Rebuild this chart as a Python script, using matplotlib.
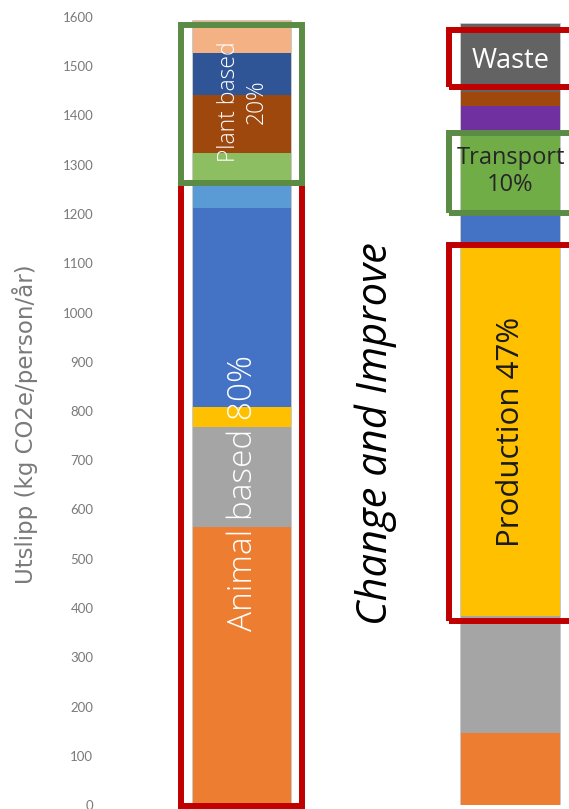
import numpy as np
import matplotlib.pyplot as plt
from matplotlib.patches import Rectangle

# Stacked emissions per person and year, two columns
cur_vals = [564, 203, 41, 404, 57, 55, 117, 85, 65]
cur_cols = ['#ED7D31', '#A5A5A5', '#FFC000', '#4472C4', '#5B9BD5',
            '#8DBF62', '#9E480E', '#2F5597', '#F4B183']

chain_vals = [146, 238, 749, 75, 156, 55, 29, 137]
chain_cols = ['#ED7D31', '#A5A5A5', '#FFC000', '#4472C4', '#70AD47',
              '#7030A0', '#9E480E', '#636363']

yticks = np.arange(0, 1700, 100)

fig = plt.figure(figsize=(5.69, 8.09), dpi=100)
ax = fig.add_axes([110/569, 4/809, 459/569, 788/809])
ax.set_xlim(-0.49, 1.2176)
ax.set_ylim(0, 1600)

W = 0.366
for x, vals, cols in [(0, cur_vals, cur_cols), (1, chain_vals, chain_cols)]:
    ax.bar(x, sum(vals), W, facecolor='none', edgecolor='#BFBFBF', lw=1.2, zorder=1)
    bottom = 0
    for v, c in zip(vals, cols):
        ax.bar(x, v, W, bottom=bottom, color=c, lw=0, zorder=2)
        bottom += v

for s in ax.spines.values():
    s.set_visible(False)
ax.set_xticks([])
ax.set_yticks(yticks)
ax.tick_params(axis='y', length=0, pad=12, labelsize=9.5, labelcolor='#7A7A7A')
for lab in ax.get_yticklabels():
    lab.set_family('Lato')

RED = '#C00000'
GRN = '#5B8C45'
frames = [(-0.2277, -3, 0.4502, 1265, RED),
          (-0.2277, 1262, 0.4502, 321, GRN),
          (0.773, 1457, 0.55, 117, RED),
          (0.773, 1202, 0.55, 162, GRN),
          (0.773, 374, 0.55, 763, RED)]
for x0, y0, w, h, c in frames:
    ax.add_patch(Rectangle((x0, y0), w, h, fill=False, ec=c, lw=4.3,
                           clip_on=False, zorder=5))

ax.text(0.004, 633, 'Animal based 80%', rotation=90, ha='center', va='center',
        color='white', fontsize=24, family='Open Sans', fontweight='light', zorder=6)
ax.text(0.004, 1429, 'Plant based\n20%', rotation=90, ha='center', va='center',
        color='white', fontsize=16.5, family='Open Sans', fontweight='light',
        linespacing=1.2, zorder=6)
ax.text(1.0, 757, 'Production 47%', rotation=90, ha='center', va='center',
        color='#1A1A1A', fontsize=22.5, family='Open Sans', zorder=6)
ax.text(1.0, 1511, 'Waste', ha='center', va='center',
        color='white', fontsize=19.5, family='Open Sans', zorder=6)
ax.text(1.0, 1286, 'Transport\n10%', ha='center', va='center',
        color='#262626', fontsize=17, family='Open Sans', linespacing=1.2, zorder=6)
ax.text(0.5, 754, 'Change and Improve', rotation=90, ha='center', va='center',
        color='black', fontsize=30, family='Open Sans', style='italic', zorder=6)

fig.text(25/569, 1 - 424/809, 'Utslipp (kg CO2e/person/år)', rotation=90,
         ha='center', va='center', color='#7A7A7A', fontsize=16.5,
         family=['Liberation Sans Narrow', 'DejaVu Sans'])

plt.savefig('out.png', dpi=100)
